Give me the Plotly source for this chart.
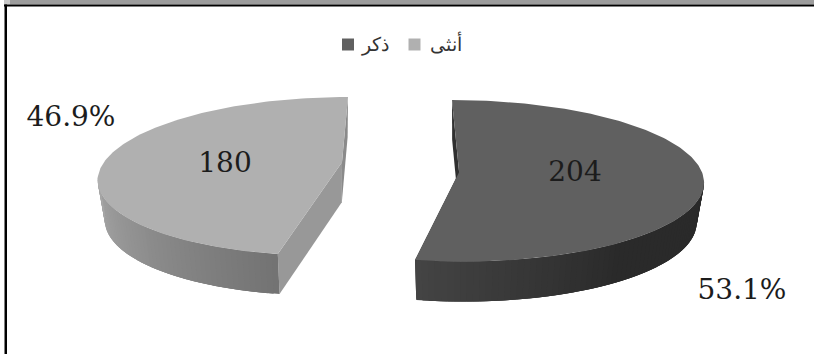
import math
import plotly.graph_objects as go

# Survey counts by gender
categories = ["ذكر", "أنثى"]
counts = [204, 180]
top_colors = ["#606060", "#b0b0b0"]
total = sum(counts)
shares = [c / total for c in counts]

WIDTH, HEIGHT = 814, 354
DEPTH = 40
BASE_SCALE = 0.97  # the lower rim is a little narrower, as in a perspective view
BAND_STEP = 1.5    # degrees per shaded band on the curved rim


def project(angle, g):
    """Map a clockwise-from-top pie angle to the tilted, skewed ellipse."""
    t = math.radians(angle)
    return (g["cx"] + g["rx"] * math.sin(t) + g["skew"] * math.cos(t),
            g["cy"] - g["ry"] * math.cos(t))


def lerp_grey(a, b, f):
    v = round(a + (b - a) * f)
    return f"rgb({v},{v},{v})"


def poly(points, color, edge=0.0):
    xs = [p[0] for p in points] + [points[0][0]]
    ys = [p[1] for p in points] + [points[0][1]]
    return go.Scatter(
        x=xs, y=ys, mode="lines", fill="toself", fillcolor=color,
        line=dict(color=color, width=edge),
        hoverinfo="skip", showlegend=False,
    )


def draw_slice(fig, start, sweep, g):
    end = start + sweep
    vertex = (g["cx"] + g["vdx"], g["cy"] + g["vdy"])

    def down(p):
        return (g["cx"] + (p[0] - g["cx"]) * BASE_SCALE, p[1] + DEPTH)

    # inner cut faces go first so the top face can cover them
    p0, p1 = project(start, g), project(end, g)
    fig.add_trace(poly([p0, vertex, down(vertex), down(p0)], g["wall_start"]))
    fig.add_trace(poly([vertex, p1, down(p1), down(vertex)], g["wall_end"]))

    # curved outer rim; each band runs under the next one to hide seams
    lo = max(start, 90)
    hi = min(end, 270)
    steps = max(1, int((hi - lo) / BAND_STEP))
    order = range(steps) if g["forward"] else range(steps - 1, -1, -1)
    for i in order:
        a = lo + (hi - lo) * i / steps
        b = lo + (hi - lo) * (i + 1) / steps
        shade = g["rim"]((a + b) / 2)
        if g["forward"]:
            b = min(hi, b + 2 * BAND_STEP)
        else:
            a = max(lo, a - 2 * BAND_STEP)
        pa, pb = project(a, g), project(b, g)
        fig.add_trace(poly([pa, pb, down(pb), down(pa)], shade))

    # top face
    n = max(2, int(sweep))
    arc = [project(start + sweep * i / n, g) for i in range(n + 1)]
    fig.add_trace(poly(arc + [vertex], g["top"]))


fig = go.Figure()

male_angle = shares[0] * 360

male_shape = dict(
    cx=457.6, cy=180.8, rx=246.4, ry=80.8, skew=-5.6, vdx=1.5, vdy=-8.5,
    top=top_colors[0], wall_start="#303030", wall_end="#303030", forward=False,
    rim=lambda a: lerp_grey(0x2a, 0x44, max(0, (a - 140) / (male_angle - 140))),
)
female_shape = dict(
    cx=336, cy=176.3, rx=238, ry=79.3, skew=12, vdx=6, vdy=-14,
    top=top_colors[1], wall_start="#989898", wall_end="#8a8a8a", forward=True,
    rim=lambda a: lerp_grey(0x72, 0xa8, (a - male_angle) / (270 - male_angle)),
)

draw_slice(fig, 0, male_angle, male_shape)
draw_slice(fig, male_angle, shares[1] * 360, female_shape)

# legend: square key followed by its category name
legend_y = 44.5
key_x = [348, 414.5]
name_x = [362, 430]
for name, color, kx in zip(categories, top_colors, key_x):
    fig.add_trace(go.Scatter(
        x=[kx], y=[legend_y], mode="markers", name=name,
        marker=dict(symbol="square", size=12, color=color),
        hoverinfo="name", showlegend=False,
    ))
fig.add_trace(go.Scatter(
    x=name_x, y=[legend_y + 2] * len(name_x), mode="text", text=categories,
    textposition="middle right",
    textfont=dict(family="Liberation Sans", size=19, color="#333333"),
    hoverinfo="skip", showlegend=False,
))

# value and share labels
label_font = dict(family="DejaVu Serif", size=28, color="#1c1c1c")
value_pos = [(575, 174), (225, 165)]
share_pos = [(742, 292), (71, 119)]
fig.add_trace(go.Scatter(
    x=[p[0] for p in value_pos + share_pos],
    y=[p[1] for p in value_pos + share_pos],
    mode="text",
    text=[str(c) for c in counts] + [f"{s * 100:.1f}%" for s in shares],
    textposition="middle center",
    textfont=label_font,
    hoverinfo="skip", showlegend=False,
))

# chart frame
frame_shapes = [
    dict(type="rect", xref="x", yref="y", x0=10, x1=WIDTH, y0=0, y1=4.5,
         fillcolor="#9c9c9c", line_width=0, layer="above"),
    dict(type="rect", xref="x", yref="y", x0=4, x1=10, y0=0, y1=4.5,
         fillcolor="#c8c8c8", line_width=0, layer="above"),
    dict(type="rect", xref="x", yref="y", x0=4, x1=WIDTH, y0=4.5, y1=6.5,
         fillcolor="#000000", line_width=0, layer="above"),
    dict(type="rect", xref="x", yref="y", x0=4.5, x1=7, y0=4.5, y1=HEIGHT,
         fillcolor="#000000", line_width=0, layer="above"),
]

fig.update_layout(
    width=WIDTH, height=HEIGHT,
    margin=dict(l=0, r=0, t=0, b=0),
    paper_bgcolor="white", plot_bgcolor="white",
    xaxis=dict(range=[0, WIDTH], visible=False, fixedrange=True),
    yaxis=dict(range=[HEIGHT, 0], visible=False, fixedrange=True),
    shapes=frame_shapes,
    showlegend=False,
)

fig.write_html("out.html", config=dict(displayModeBar=False))
